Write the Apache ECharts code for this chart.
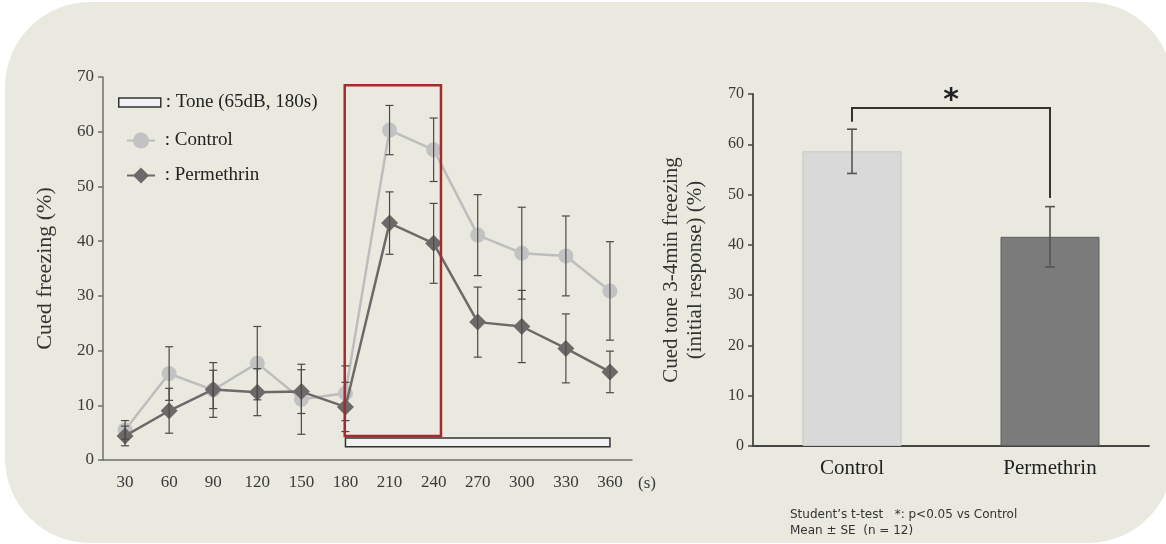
<!DOCTYPE html>
<html>
<head>
<meta charset="utf-8">
<script src="https://cdn.jsdelivr.net/npm/echarts@6/dist/echarts.min.js"></script>
<style>
  html, body { margin: 0; padding: 0; background: #ffffff; }
  #main { width: 1166px; height: 544px; }
</style>
</head>
<body>
<div id="main"></div>
<script>
// time course (left panel)
var times = ['30', '60', '90', '120', '150', '180', '210', '240', '270', '300', '330', '360'];
var controlMean = [5.5, 15.8, 12.8, 17.7, 11.1, 12.2, 60.3, 56.7, 41.1, 37.8, 37.3, 30.9];
var controlSE = [1.7, 4.9, 5.0, 6.7, 6.4, 5.0, 4.5, 5.8, 7.4, 8.4, 7.3, 9.0];
var permMean = [4.4, 9.0, 12.9, 12.4, 12.5, 9.7, 43.3, 39.6, 25.2, 24.4, 20.4, 16.1];
var permSE = [1.8, 4.1, 3.5, 4.3, 4.0, 4.5, 5.7, 7.3, 6.4, 6.6, 6.3, 3.8];
var yTicks = [0, 10, 20, 30, 40, 50, 60, 70];

// tone period and highlighted window (seconds)
var tone = [180, 360];
var focusWindow = [179.5, 245];

// 3-4 min summary (right panel)
var groups = ['Control', 'Permethrin'];
var barMean = [58.6, 41.6];
var barSE = [4.4, 6.0];
// significance bracket heights (%)
var bracket = { top: 67.2, left: 64.5, right: 49.3 };

var serif = 'Liberation Serif';
var chart = echarts.init(document.getElementById('main'));

function errData(mean, se) {
  return mean.map(function (m, i) { return [i, m - se[i], m + se[i]]; });
}

function errorBar(cap, color, width) {
  return function (params, api) {
    var x = api.value(0);
    var lo = api.coord([x, api.value(1)]);
    var hi = api.coord([x, api.value(2)]);
    var st = { stroke: color, lineWidth: width };
    return {
      type: 'group',
      children: [
        { type: 'line', shape: { x1: lo[0], y1: lo[1], x2: hi[0], y2: hi[1] }, style: st },
        { type: 'line', shape: { x1: hi[0] - cap, y1: hi[1], x2: hi[0] + cap, y2: hi[1] }, style: st },
        { type: 'line', shape: { x1: lo[0] - cap, y1: lo[1], x2: lo[0] + cap, y2: lo[1] }, style: st }
      ]
    };
  };
}

var tickText = { color: '#3a3a3a', fontFamily: serif, fontSize: 17 };

var option = {
  animation: false,
  graphic: [
    {
      type: 'rect', z: -10, silent: true,
      shape: { x: 5, y: 2, width: 1168, height: 541, r: 85 },
      style: { fill: '#EAE9DF' }
    },
    {
      type: 'text', left: 790, top: 507,
      style: {
        text: 'Student\u2019s t-test   *: p<0.05 vs Control\nMean \u00b1 SE  (n = 12)',
        fill: '#333', font: '12px "DejaVu Sans"', lineHeight: 16
      }
    }
  ],
  legend: [
    {
      left: 118, top: 93, orient: 'vertical', padding: 0,
      itemWidth: 42, itemHeight: 9,
      formatter: function (n) { return ': ' + n; },
      textStyle: { fontFamily: serif, fontSize: 19, color: '#222' },
      data: [{ name: 'Tone (65dB, 180s)', icon: 'rect',
        itemStyle: { color: '#F2F2F4', borderColor: '#333', borderWidth: 1.5 } }]
    },
    {
      left: 126, top: 131, orient: 'vertical', itemGap: 16, padding: 0,
      itemWidth: 28, itemHeight: 20,
      formatter: function (n) { return ' : ' + n; },
      textStyle: { fontFamily: serif, fontSize: 19, color: '#222' },
      data: ['Control', 'Permethrin']
    }
  ],
  grid: [
    { left: 103, top: 77, width: 529, height: 383 },
    { left: 753, top: 94, width: 396, height: 352 }
  ],
  xAxis: [
    {
      gridIndex: 0, type: 'category', data: times, boundaryGap: true,
      name: '(s)', nameLocation: 'end', nameGap: 6,
      nameTextStyle: { fontFamily: serif, fontSize: 17, color: '#3a3a3a', verticalAlign: 'top', padding: [15, 0, 0, 0] },
      axisLine: { lineStyle: { color: '#6f6f6f', width: 1.5 } },
      axisTick: { alignWithLabel: true, length: 5, lineStyle: { color: '#6f6f6f', width: 1.5 } },
      axisLabel: Object.assign({ margin: 14 }, tickText)
    },
    {
      gridIndex: 0, type: 'value', min: 15, max: 375, show: false
    },
    {
      gridIndex: 1, type: 'category', data: groups, boundaryGap: true,
      axisLine: { lineStyle: { color: '#444', width: 1.8 } },
      axisTick: { show: false },
      axisLabel: { margin: 12, color: '#222', fontFamily: serif, fontSize: 21 }
    }
  ],
  yAxis: [
    {
      gridIndex: 0, type: 'value', min: yTicks[0], max: yTicks[yTicks.length - 1], interval: 10,
      name: 'Cued freezing (%)', nameLocation: 'middle', nameGap: 47,
      nameTextStyle: { fontFamily: serif, fontSize: 22, color: '#333' },
      splitLine: { show: false },
      axisLine: { show: true, lineStyle: { color: '#6f6f6f', width: 1.5 } },
      axisTick: { show: true, length: 5, lineStyle: { color: '#6f6f6f', width: 1.5 } },
      axisLabel: Object.assign({ margin: 9 }, tickText)
    },
    {
      gridIndex: 1, type: 'value', min: yTicks[0], max: yTicks[yTicks.length - 1], interval: 10,
      name: 'Cued tone 3-4min freezing\n(initial response) (%)', nameLocation: 'middle', nameGap: 46,
      nameTextStyle: { fontFamily: serif, fontSize: 21, color: '#333', lineHeight: 24 },
      splitLine: { show: false },
      axisLine: { show: true, lineStyle: { color: '#444', width: 1.8 } },
      axisTick: { show: true, length: 5, lineStyle: { color: '#444', width: 1.5 } },
      axisLabel: { margin: 9, color: '#3a3a3a', fontFamily: serif, fontSize: 16 }
    }
  ],
  series: [
    {
      name: 'Tone (65dB, 180s)', type: 'custom', xAxisIndex: 1, yAxisIndex: 0,
      itemStyle: { color: '#F2F2F4' },
      data: [[tone[0], tone[1], 2.4, 4.0]],
      renderItem: function (params, api) {
        var a = api.coord([api.value(0), api.value(3)]);
        var b = api.coord([api.value(1), api.value(2)]);
        return { type: 'rect', shape: { x: a[0], y: a[1], width: b[0] - a[0], height: b[1] - a[1] },
          style: { fill: '#F2F2F4', stroke: '#333', lineWidth: 1.5 } };
      }
    },
    {
      name: 'window', type: 'custom', xAxisIndex: 1, yAxisIndex: 0, z: 5,
      data: [[focusWindow[0], focusWindow[1], 4.4, 68.5]],
      renderItem: function (params, api) {
        var a = api.coord([api.value(0), api.value(3)]);
        var b = api.coord([api.value(1), api.value(2)]);
        return { type: 'rect', shape: { x: a[0], y: a[1], width: b[0] - a[0], height: b[1] - a[1] },
          style: { fill: 'none', stroke: '#A8292C', lineWidth: 2.5 } };
      }
    },
    {
      name: 'Control', type: 'line', xAxisIndex: 0, yAxisIndex: 0, z: 2,
      data: controlMean, symbol: 'circle', symbolSize: 15,
      color: '#C2C2C2',
      lineStyle: { color: '#BDBDBD', width: 2.5 },
      itemStyle: { color: '#C2C2C2' }
    },
    {
      name: 'Permethrin', type: 'line', xAxisIndex: 0, yAxisIndex: 0, z: 3,
      data: permMean, symbol: 'diamond', symbolSize: 17,
      color: '#6E6969',
      lineStyle: { color: '#6E6969', width: 2.5 },
      itemStyle: { color: '#6E6969' }
    },
    {
      name: 'Control SE', type: 'custom', xAxisIndex: 0, yAxisIndex: 0, z: 4,
      data: errData(controlMean, controlSE), renderItem: errorBar(4, '#4a4a4a', 1.2)
    },
    {
      name: 'Permethrin SE', type: 'custom', xAxisIndex: 0, yAxisIndex: 0, z: 4,
      data: errData(permMean, permSE), renderItem: errorBar(4, '#4a4a4a', 1.2)
    },
    {
      name: 'summary', type: 'bar', xAxisIndex: 2, yAxisIndex: 1, barWidth: 99,
      data: [
        { value: barMean[0], itemStyle: { color: '#D9D9D9', borderColor: '#C6C6C6', borderWidth: 1 } },
        { value: barMean[1], itemStyle: { color: '#7B7B7B', borderColor: '#5E5E5E', borderWidth: 1 } }
      ]
    },
    {
      name: 'summary SE', type: 'custom', xAxisIndex: 2, yAxisIndex: 1, z: 4,
      data: errData(barMean, barSE), renderItem: errorBar(5, '#555', 1.6)
    },
    {
      name: 'bracket', type: 'custom', xAxisIndex: 2, yAxisIndex: 1, z: 4,
      data: [[bracket.top, bracket.left, bracket.right]],
      renderItem: function (params, api) {
        var l0 = api.coord([0, api.value(0)]);
        var l1 = api.coord([0, api.value(1)]);
        var r0 = api.coord([1, api.value(0)]);
        var r1 = api.coord([1, api.value(2)]);
        return {
          type: 'group',
          children: [
            { type: 'polyline', shape: { points: [[l1[0], l1[1]], [l0[0], l0[1]], [r0[0], r0[1]], [r1[0], r1[1]]] },
              style: { stroke: '#333', lineWidth: 2, fill: 'none' } },
            { type: 'text', x: (l0[0] + r0[0]) / 2, y: l0[1] + 8,
              style: { text: '*', fill: '#222', font: 'bold 30px "DejaVu Sans"', align: 'center', verticalAlign: 'bottom' } }
          ]
        };
      }
    }
  ]
};

chart.setOption(option);
</script>
</body>
</html>
